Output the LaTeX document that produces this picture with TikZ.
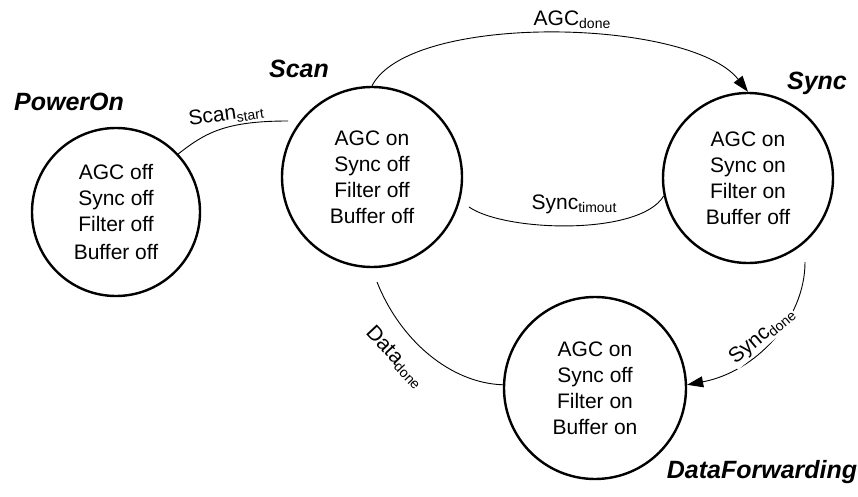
\documentclass[tikz,border=0pt]{standalone}
\usepackage{fontspec}
\setmainfont{Liberation Sans}
\usetikzlibrary{arrows.meta}
% subscript part of a transition label
\newcommand{\subtx}[1]{\raisebox{-3pt}{\fontsize{14}{14}\selectfont #1}}
\begin{document}
\begin{tikzpicture}[x=1pt,y=-1pt,
  state/.style={circle,draw,line width=2.4pt,inner sep=0pt,align=center,
                font=\fontsize{21}{26}\selectfont},
  title/.style={font=\fontsize{25}{28}\selectfont\bfseries\itshape,inner sep=0pt,anchor=base},
  trans/.style={line width=0.9pt},
  arr/.style={-{Triangle[length=16pt,width=11pt]}},
  tlabel/.style={font=\fontsize{21}{24}\selectfont,inner sep=1pt}]
\useasboundingbox (0,0) rectangle (858,497);

% states
\node[state,minimum size=168pt] (power) at (116,212) {AGC off\\Sync off\\Filter off\\[2pt]Buffer off};
\node[state,minimum size=180pt] (scan) at (372,177) {AGC on\\Sync off\\Filter off\\Buffer off};
\node[state,minimum size=170pt] (sync) at (748,178) {AGC on\\Sync on\\Filter on\\Buffer off};
\node[state,minimum size=182pt] (fwd) at (595,388) {AGC on\\Sync off\\Filter on\\Buffer on};

% state names
\node[title] (powerName) at (69,111) {PowerOn};
\node[title] (scanName) at (299,78) {Scan};
\node[title] (syncName) at (817,90) {Sync};
\node[title] (fwdName) at (762,478) {DataForwarding};

% free ends of the transitions
\coordinate (scanIn) at (288,121);
\coordinate (timeoutStart) at (469,207);
\coordinate (syncDoneStart) at (805,262);
\coordinate (dataDoneStart) at (377,282);

% transitions
\draw[trans] (power.43) .. controls (205,133) and (225,121) .. (scanIn);
\draw[trans,arr] (scan.north) .. controls (410,12) and (690,18) .. (sync.north);
\draw[trans] (timeoutStart) .. controls (505,232) and (640,236) .. (sync.192);
\draw[trans,arr] (syncDoneStart) .. controls (805,320) and (755,372) .. (fwd.2);
\draw[trans] (dataDoneStart) .. controls (400,340) and (450,383) .. (fwd.178);

% transition labels
\node[tlabel,rotate=8] (lScanStart) at (226,115) {Scan\subtx{start}};
\node[tlabel,anchor=base] (lAgcDone) at (572,26) {AGC\subtx{done}};
\node[tlabel,anchor=base] (lTimeout) at (574,209) {Sync\subtx{timout}};
\node[tlabel,rotate=-47] (lDataDone) at (395,357) {Data\subtx{done}};
\node[tlabel,rotate=40,fill=white] (lSyncDone) at (762,336) {Sync\subtx{done}};
\end{tikzpicture}
\end{document}
